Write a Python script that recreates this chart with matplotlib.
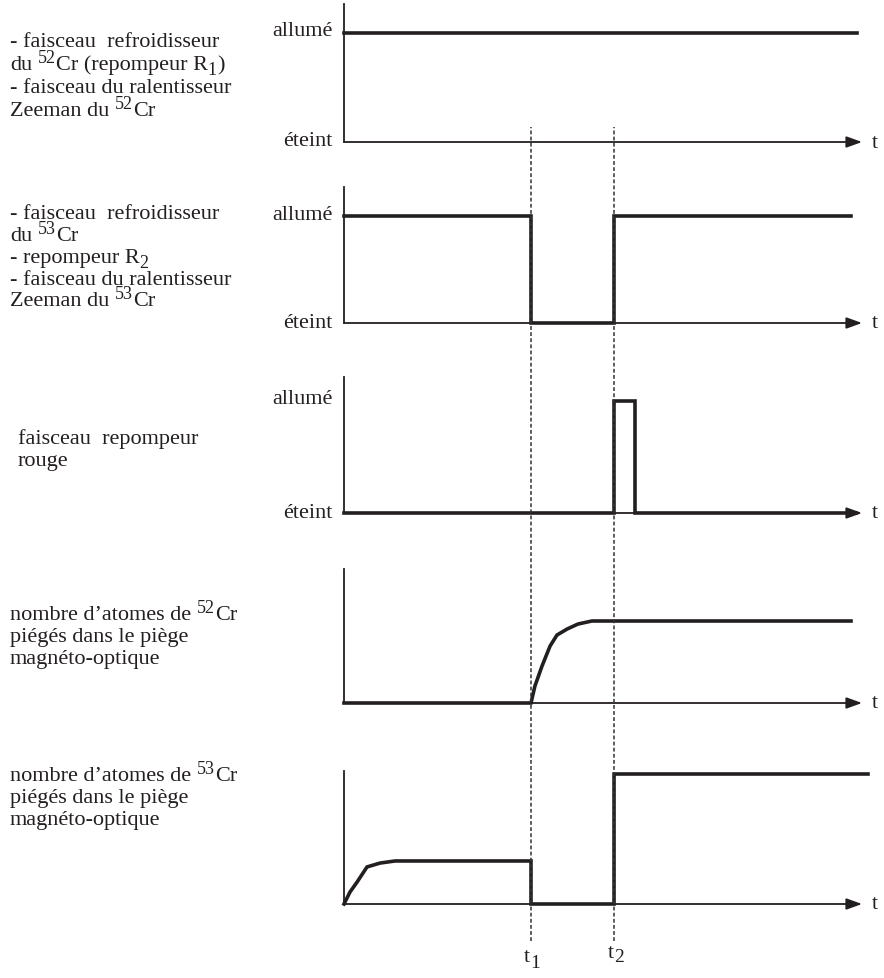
import matplotlib.pyplot as plt

plt.rcParams['font.family'] = ['Liberation Serif', 'DejaVu Serif']

noir = '#231f20'

# instants (unites arbitraires, t1 = 1)
t1 = 1.0
t2 = 1.444
t_fin = 2.77

# signaux (0 = éteint, 1 = allumé)
t_52_faisceaux = [0, 2.743]
y_52_faisceaux = [1, 1]

t_53_faisceaux = [0, t1, t1, t2, t2, 2.711]
y_53_faisceaux = [1, 1, 0, 0, 1, 1]

t_rouge = [0, t2, t2, 1.556, 1.556, 2.74]
y_rouge = [0, 0, 1, 1, 0, 0]

t_atomes_52 = [0, t1, 1.021, 1.059, 1.102, 1.139, 1.193, 1.251, 1.326, 2.711]
y_atomes_52 = [0, 0, 0.207, 0.451, 0.695, 0.829, 0.902, 0.963, 1.0, 1.0]

t_atomes_53 = [0, 0.032, 0.070, 0.123, 0.193, 0.273, t1, t1, t2, t2, 2.802]
y_atomes_53 = [0, 0.092, 0.169, 0.285, 0.315, 0.331, 0.331, 0, 0, 1, 1]

signaux = [
    (t_52_faisceaux, y_52_faisceaux),
    (t_53_faisceaux, y_53_faisceaux),
    (t_rouge, y_rouge),
    (t_atomes_52, y_atomes_52),
    (t_atomes_53, y_atomes_53),
]

# textes : morceaux (texte, 'n' normal / 'sup' exposant / 'sub' indice)
legendes = [
    [[('- faisceau  refroidisseur', 'n')],
     [('du ', 'n'), ('52', 'sup'), ('Cr (repompeur R', 'n'), ('1', 'sub'), (')', 'n')],
     [('- faisceau du ralentisseur', 'n')],
     [('Zeeman du ', 'n'), ('52', 'sup'), ('Cr', 'n')]],
    [[('- faisceau  refroidisseur', 'n')],
     [('du ', 'n'), ('53', 'sup'), ('Cr', 'n')],
     [('- repompeur R', 'n'), ('2', 'sub')],
     [('- faisceau du ralentisseur', 'n')],
     [('Zeeman du ', 'n'), ('53', 'sup'), ('Cr', 'n')]],
    [[('faisceau  repompeur', 'n')],
     [('rouge', 'n')]],
    [[('nombre d’atomes de ', 'n'), ('52', 'sup'), ('Cr', 'n')],
     [('piégés dans le piège', 'n')],
     [('magnéto-optique', 'n')]],
    [[('nombre d’atomes de ', 'n'), ('53', 'sup'), ('Cr', 'n')],
     [('piégés dans le piège', 'n')],
     [('magnéto-optique', 'n')]],
]
avec_etats = [True, True, True, False, False]

# mise en page en pixels : (haut de l'axe, niveau 1, axe du temps)
W, H = 884, 979
panneaux = [(5, 34, 143), (188, 217, 324), (378, 402, 514), (570, 622, 704), (772, 775, 905)]
lignes_y = [[47, 70, 93, 116], [219, 241, 263, 285, 306], [444, 466], [620, 642, 664], [781, 803, 825]]
texte_x = [10, 10, 18, 10, 10]
x0, x1 = 344, 862
taille = 16

fig = plt.figure(figsize=(W / 100, H / 100), dpi=100)
rendu = fig.canvas.get_renderer()


def ecrire(x, y, morceaux, sub_dy=-5, fs_petit=13):
    # écrit une ligne morceau par morceau (exposants et indices plus grands que mathtext)
    for s, pos in morceaux:
        fs = taille if pos == 'n' else fs_petit
        dy = {'n': 0, 'sup': 7, 'sub': sub_dy}[pos]
        esp = fs * 100 / 72 * 0.25
        gauche = len(s) - len(s.lstrip(' '))
        droite = len(s) - len(s.rstrip(' '))
        x += gauche * esp
        t = fig.text(x / W, 1 - (y - dy) / H, s.strip(' '), fontsize=fs, ha='left',
                     va='baseline', color=noir)
        x += t.get_window_extent(rendu).width + droite * esp


for i, (haut, niveau, base) in enumerate(panneaux):
    ax = fig.add_axes([x0 / W, 1 - base / H, (x1 - x0) / W, (base - haut) / H])
    ax.set_xlim(0, t_fin)
    ax.set_ylim(0, (base - haut) / (base - niveau))
    for s in ['top', 'right', 'bottom']:
        ax.spines[s].set_visible(False)
    ax.spines['left'].set_color(noir)
    ax.spines['left'].set_linewidth(1.3)
    ax.set_xticks([])
    ax.set_yticks([])
    ax.patch.set_visible(False)

    # axe du temps avec flèche
    ax.annotate('', xy=(t_fin, 0), xytext=(0, 0),
                arrowprops=dict(arrowstyle='-|>,head_length=0.47,head_width=0.17',
                                mutation_scale=20, color=noir, lw=1.3,
                                shrinkA=0, shrinkB=0),
                annotation_clip=False)
    ax.text(t_fin + 0.07, 0, 't', fontsize=taille, ha='center', va='center', color=noir)

    t, y = signaux[i]
    ax.plot(t, y, color=noir, lw=2.6, solid_joinstyle='miter', clip_on=False, zorder=3)

    if avec_etats[i]:
        fig.text(333 / W, 1 - (niveau - 2) / H, 'allumé', fontsize=taille, ha='right',
                 va='center', color=noir)
        fig.text(333 / W, 1 - (base - 1) / H, 'éteint', fontsize=taille, ha='right',
                 va='center', color=noir)

    for morceaux, yl in zip(legendes[i], lignes_y[i]):
        ecrire(texte_x[i], yl, morceaux)

# lignes pointillées t1 et t2
ax_t = fig.add_axes([x0 / W, 1 - 942 / H, (x1 - x0) / W, (942 - 128) / H])
ax_t.set_xlim(0, t_fin)
ax_t.set_ylim(0, 1)
ax_t.axis('off')
for tt in [t1, t2]:
    ax_t.axvline(tt, color='#333333', lw=1.1, dashes=(2.5, 1.5))

ecrire(524, 962, [('t', 'n'), ('1', 'sub')], sub_dy=-6, fs_petit=14)
ecrire(608, 958, [('t', 'n'), ('2', 'sub')], sub_dy=-4, fs_petit=14)

fig.savefig('out.png', dpi=100)
